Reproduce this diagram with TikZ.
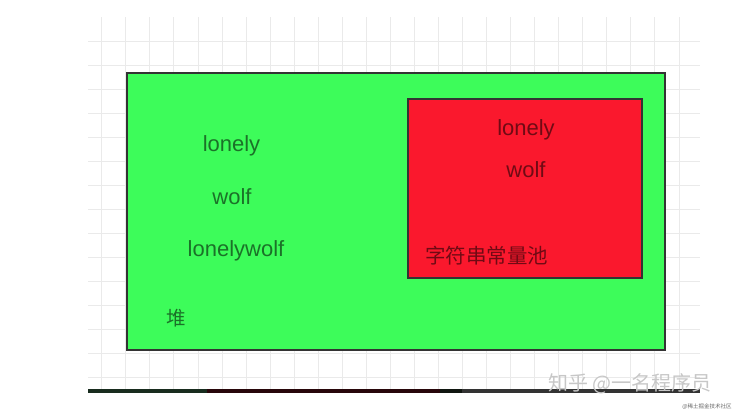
\documentclass[tikz,border=0pt]{standalone}
\usepackage{fontspec}
\setmainfont{Liberation Sans}
\newfontfamily\cjk{Noto Sans CJK SC}
\definecolor{gridgray}{RGB}{234,234,234}
\definecolor{boxline}{RGB}{51,51,51}
\definecolor{heapgreen}{RGB}{61,252,90}
\definecolor{poolred}{RGB}{250,24,45}
\definecolor{bargreen}{RGB}{24,44,30}
\definecolor{barred}{RGB}{40,6,10}
\definecolor{barblack}{RGB}{16,22,16}
\definecolor{bargray}{RGB}{51,51,51}

\begin{document}
\begin{tikzpicture}[x=1pt,y=-1pt,
                box/.style={draw=boxline,line width=2.5pt},
                word/.style={text=black,text opacity=0.55,inner sep=0pt,
                        font=\fontsize{22}{26}\selectfont},
                cjkword/.style={word,font=\cjk\fontsize{20.5}{24}\selectfont}]
    \useasboundingbox (0,0) rectangle (740,418);
    % grid
    \foreach \i in {0,...,24}
        \draw[gridgray,line width=0.8pt] ({101.7+24.05*\i},17) -- ({101.7+24.05*\i},389);
    \foreach \j in {0,...,14}
        \draw[gridgray,line width=0.8pt] (88,{41.7+24*\j}) -- (700,{41.7+24*\j});
    % bottom bar
    \fill[bargreen] (88,389) rectangle (207,393);
    \fill[barred] (207,389) rectangle (440,393);
    \fill[barblack] (440,389) rectangle (462,393);
    \fill[bargray] (462,389) rectangle (700,393);
    % heap and string pool
    \draw[box,fill=heapgreen] (127,73) rectangle (665,350);
    \draw[box,fill=poolred] (408,99) rectangle (642,278);
    \node[word] (heaplonely) at (231.5,146) {lonely};
    \node[word] (heapwolf) at (232,197) {wolf};
    \node[word] (heaplonelywolf) at (236,251) {lonelywolf};
    \node[cjkword,font=\cjk\fontsize{19.5}{23}\selectfont] (heaplabel) at (176,318) {堆};
    \node[word] (poollonely) at (526,130) {lonely};
    \node[word] (poolwolf) at (526,169.5) {wolf};
    \node[cjkword] (poollabel) at (486.5,256) {字符串常量池};
    % watermark
    \node[inner sep=0pt,text=black!22,font=\cjk\fontsize{20}{24}\selectfont] (mark) at (630,384) {知乎 @一名程序员};
    \node[inner sep=0pt,text=black!60,font=\cjk\fontsize{5.5}{7}\selectfont] (marksmall) at (707,407) {@稀土掘金技术社区};
\end{tikzpicture}
\end{document}
